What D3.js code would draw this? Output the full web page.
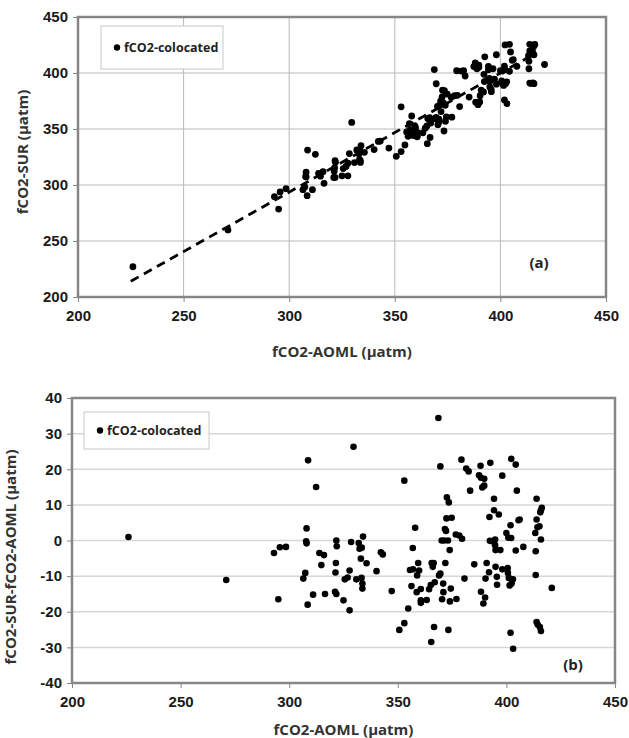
<!DOCTYPE html>
<html>
<head>
<meta charset="UTF-8">
<title>fCO2 colocated comparison</title>
<script src="https://cdn.jsdelivr.net/npm/d3@7"></script>
<style>
  body { margin: 0; background: #fff; }
  svg { display: block; font-family: "Open Sans", "Liberation Sans", sans-serif; }
  .tick text { font-size: 15px; font-weight: bold; fill: #1a1a1a; }
  .tick line { stroke: #868686; }
  .domain { display: none; }
</style>
</head>
<body>
<svg id="chart" width="629" height="738"></svg>
<script>
// x tick values (both panels)
var xTicks = [200, 250, 300, 350, 400, 450];
var yTicksTop = [200, 250, 300, 350, 400, 450];
var yTicksBot = [-40, -30, -20, -10, 0, 10, 20, 30, 40];

// fCO2-AOML (x) and fCO2-SUR minus fCO2-AOML
var aoml = [
  226, 271, 293, 295.7, 298.5, 295, 306.5, 307.4, 307.8, 308,
  308, 308.7, 308.5, 311, 312.4, 313.9, 316, 314.8, 316.5, 321.7,
  321.9, 321.5, 321.3, 321.1, 321.7, 325, 325.6, 326.9, 327.8, 327.8,
  328.5, 329.6, 330.9, 332, 332.4, 333, 333.4, 333.3, 333.7, 333.7,
  334, 335.6, 340.2, 342.2, 343.1, 347.2, 350.7, 353, 353, 354.8,
  355.6, 356.3, 356.9, 357, 358, 358.7, 358.9, 359.4, 359.8, 360.6,
  360.6, 360.6, 363.3, 364.4, 365.2, 365.4, 365.6, 366.1, 366.5, 366.7,
  367, 368.7, 369, 369.6, 369.6, 370.2, 370.4, 371, 370.9, 371.3,
  371.7, 371.9, 372.2, 372.4, 372.6, 373.1, 373.5, 373.3, 373.9, 374,
  374.4, 374.8, 376.7, 377, 378.3, 379.3, 379.6, 380.7, 381.5, 382.6,
  383.3, 385.2, 387.4, 388.1, 388.3, 388.3, 388.9, 389.4, 389.8, 389.8,
  390.2, 390.4, 390.9, 392, 392.2, 392.4, 392.6, 393.5, 394.3, 394.3,
  394.8, 394.8, 395, 395, 395.6, 395.7, 396.5, 397.2, 398.1, 398.1,
  400, 400.6, 400.7, 400.9, 401.1, 401.5, 401.9, 401.9, 402.2, 402.2,
  402.4, 403, 403.1, 404.3, 404.3, 404.8, 405.6, 406.1, 407.8, 413.3,
  413.5, 413.5, 413.9, 413.9, 414.3, 413.9, 414.4, 415.4, 415.9, 415.2,
  415.6, 415.9, 416.3, 415.9, 420.9
];
var delta = [
  1.0, -11.1, -3.5, -1.9, -1.8, -16.5, -10.7, -9.1, -0.2, -0.8,
  3.4, 22.5, -18.0, -15.2, 15.0, -3.5, -4.1, -6.9, -15.0, 0,
  -1.6, -6.3, -9.0, -14.4, -15.0, -16.8, -10.9, -10.4, -8.4, -19.6,
  -0.4, 26.3, -10.9, -0.7, -2.3, -5.1, -2.0, -10.5, -12.1, -13.5,
  1.1, -6.4, -8.6, -3.3, -3.9, -14.2, -25.1, 16.8, -23.2, -19.1,
  -8.3, -12.8, -2.1, -8.1, 3.6, -14.5, -9.8, -6.3, -8.4, -17.5,
  -13.6, -16.8, -16.7, -13.7, -12.5, -28.5, -6.3, -7.4, -6.3, -24.3,
  -11.7, 34.4, -9.8, 20.8, -9.3, 0, -16.5, -14.5, -12.1, 0,
  3.2, -6.3, 2.7, 6.2, 12.1, 0, 10.7, -25.1, -2.7, -17.1,
  -13.5, 6.4, 1.7, -16.4, 1.4, 22.7, 0.5, -10.7, 20.2, 19.4,
  14.0, -6.7, 18.3, 21.0, 17.6, -14.4, 14.9, -17.7, 15.4, 17.3,
  -16, -10.7, -6.3, -8.9, 6.6, -0.1, 21.8, -0.2, 11.7, 8.5,
  0.3, -1.3, -7.4, -2.7, -10.2, -12.4, 7.3, -2.7, 18.2, -8.1,
  2.1, -7.7, -9.1, 0.8, -10.5, -12.6, 4.3, -25.9, 22.9, 0.7,
  -12.1, -10.9, -30.4, 21.3, -2.8, 14.0, 5.7, 5.9, -1.8, 2.1,
  -3.0, -9.7, 11.7, 5.9, 3.7, -22.9, -23.6, -24.3, -25.4, 4.0,
  7.9, 8.5, 9.2, 0.3, -13.3
];
// fCO2-SUR = fCO2-AOML + difference (as labelled on panel b)
var sur = aoml.map(function (v, i) { return v + delta[i]; });

// dashed fit line in panel (a), end points
var fitX = [225, 417];
var fitY = [214, 418];

var svg = d3.select("#chart");

function panel(opt) {
  var x = d3.scaleLinear().domain([200, 450]).range([opt.left, opt.right]);
  var y = d3.scaleLinear().domain(opt.yDomain).range([opt.bottom, opt.top]);
  var g = svg.append("g");

  // horizontal grid
  g.append("g").selectAll("line")
    .data(opt.yTicks.slice(1, -1))
    .enter().append("line")
      .attr("x1", opt.left).attr("x2", opt.right)
      .attr("y1", d => y(d)).attr("y2", d => y(d))
      .attr("stroke", opt.gridColor).attr("stroke-width", opt.gridWidth);

  // vertical grid (panel a only)
  if (opt.vgrid) {
    g.append("g").selectAll("line")
      .data(xTicks.slice(1, -1))
      .enter().append("line")
        .attr("x1", d => x(d)).attr("x2", d => x(d))
        .attr("y1", opt.top).attr("y2", opt.bottom)
        .attr("stroke", opt.gridColor).attr("stroke-width", opt.gridWidth);
  }

  // axes
  g.append("g")
    .attr("transform", "translate(0," + opt.bottom + ")")
    .call(d3.axisBottom(x).tickValues(xTicks).tickSize(5).tickPadding(8).tickFormat(d => String(d)));
  g.append("g")
    .attr("transform", "translate(" + opt.left + ",0)")
    .call(d3.axisLeft(y).tickValues(opt.yTicks).tickSize(5).tickPadding(5).tickFormat(d => String(d)));

  // plot frame
  g.append("rect")
    .attr("x", opt.left).attr("y", opt.top)
    .attr("width", opt.right - opt.left).attr("height", opt.bottom - opt.top)
    .attr("fill", "none").attr("stroke", "#868686").attr("stroke-width", 2.5);

  // axis titles
  g.append("text")
    .attr("x", (opt.left + opt.right) / 2).attr("y", opt.xTitleY)
    .attr("text-anchor", "middle")
    .attr("font-size", 15).attr("font-weight", "bold").attr("fill", "#333")
    .text("fCO2-AOML (µatm)");
  g.append("text")
    .attr("transform", "translate(" + opt.yTitleX + "," + opt.yTitleY + ") rotate(-90)")
    .attr("text-anchor", "middle")
    .attr("font-size", 15).attr("font-weight", "bold").attr("fill", "#333")
    .text(opt.yTitle);

  // legend
  var lg = g.append("g").attr("transform", "translate(" + opt.legend[0] + "," + opt.legend[1] + ")");
  lg.append("rect")
    .attr("width", opt.legend[2]).attr("height", opt.legend[3])
    .attr("fill", "#fff").attr("stroke", "#c8c8c8");
  lg.append("circle")
    .attr("cx", 16).attr("cy", opt.legend[3] / 2).attr("r", 3.2).attr("fill", "#000");
  lg.append("text")
    .attr("x", 23).attr("y", opt.legend[3] / 2 + 4.5)
    .attr("font-size", 12.5).attr("font-weight", "bold").attr("fill", "#222")
    .text("fCO2-colocated");

  // panel tag
  g.append("text")
    .attr("x", opt.tag[0]).attr("y", opt.tag[1])
    .attr("text-anchor", "middle")
    .attr("font-size", 15).attr("font-weight", "bold").attr("fill", "#222")
    .text(opt.tagText);

  return { g: g, x: x, y: y };
}

// ---- panel (a)
var pa = panel({
  left: 78, right: 606, top: 17, bottom: 297,
  yDomain: [200, 450], yTicks: yTicksTop,
  vgrid: true, gridColor: "#b9b9b9", gridWidth: 1,
  xTitleY: 357, yTitleX: 28, yTitleY: 152, yTitle: "fCO2-SUR (µatm)",
  legend: [101, 26, 122, 43], tag: [539, 268], tagText: "(a)"
});

pa.g.append("path")
  .datum(fitX.map((v, i) => [v, fitY[i]]))
  .attr("d", d3.line().x(d => pa.x(d[0])).y(d => pa.y(d[1])))
  .attr("fill", "none").attr("stroke", "#000")
  .attr("stroke-width", 2.8).attr("stroke-dasharray", "9,6");

pa.g.append("g").selectAll("circle")
  .data(aoml)
  .enter().append("circle")
    .attr("cx", d => pa.x(d))
    .attr("cy", (d, i) => pa.y(sur[i]))
    .attr("r", 3.4).attr("fill", "#000");

// ---- panel (b)
var pb = panel({
  left: 72, right: 615, top: 398, bottom: 683,
  yDomain: [-40, 40], yTicks: yTicksBot,
  vgrid: false, gridColor: "#d6d6d6", gridWidth: 1.5,
  xTitleY: 735, yTitleX: 16, yTitleY: 557, yTitle: "fCO2-SUR-fCO2-AOML (µatm)",
  legend: [84, 412, 125, 37], tag: [573, 670], tagText: "(b)"
});

pb.g.append("g").selectAll("circle")
  .data(aoml)
  .enter().append("circle")
    .attr("cx", d => pb.x(d))
    .attr("cy", (d, i) => pb.y(delta[i]))
    .attr("r", 3.3).attr("fill", "#000");
</script>
</body>
</html>
